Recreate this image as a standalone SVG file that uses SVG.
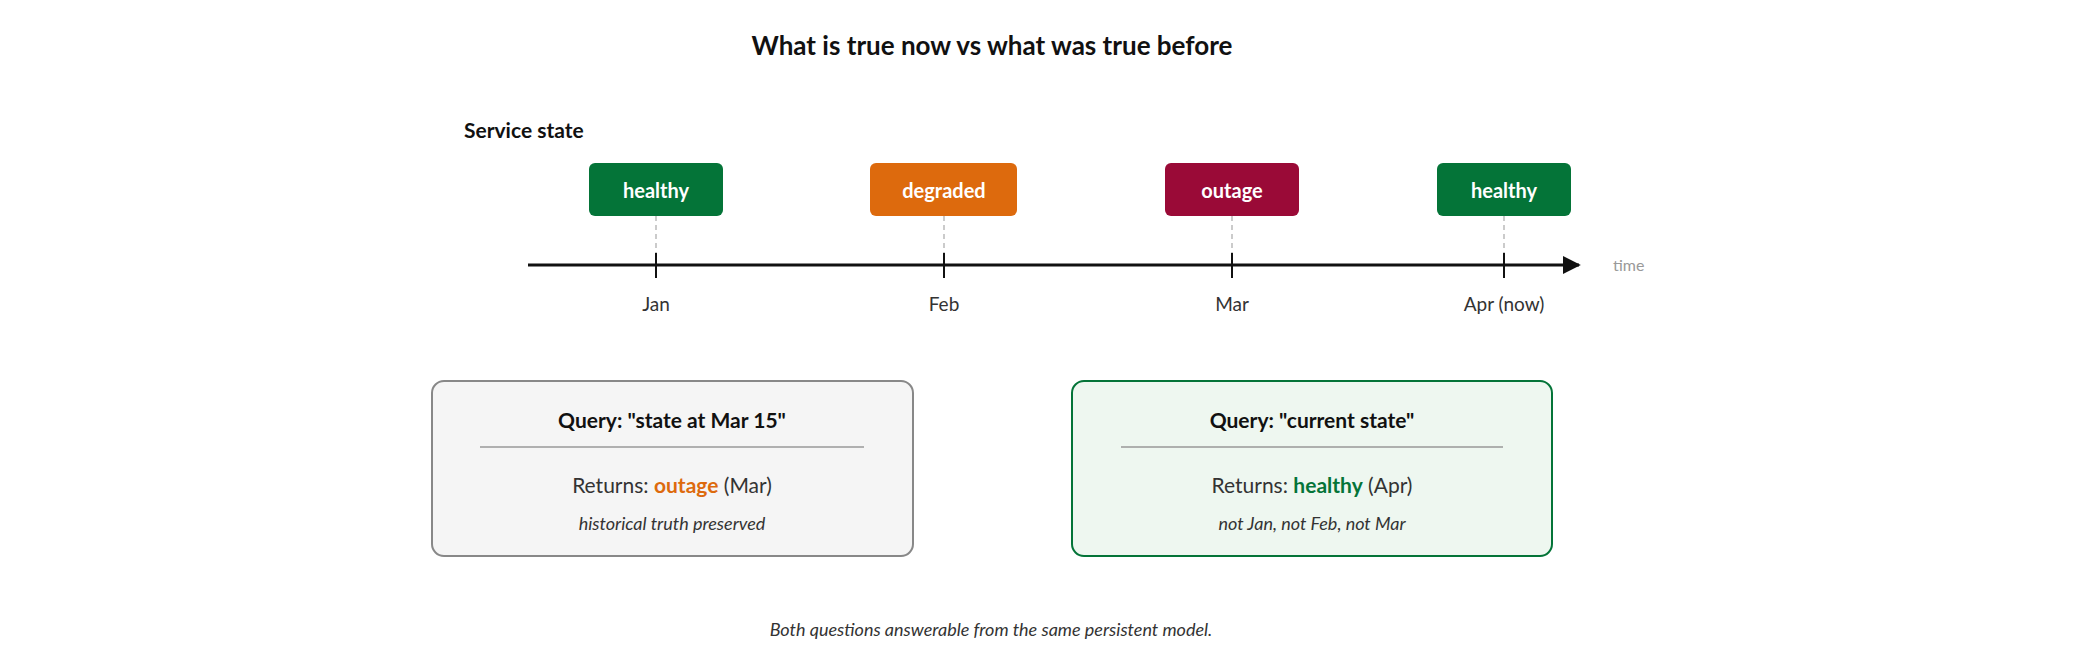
<svg xmlns="http://www.w3.org/2000/svg" width="2080" height="670" viewBox="0 0 2080 670">
<defs>
<style>
text{font-family:Lato,"Noto Sans",sans-serif;text-anchor:middle;dominant-baseline:central}
.st{fill:#fff;font-weight:700;font-size:20px}
.mo{fill:#333;font-size:19px}
.qt{font-weight:700;font-size:21px;fill:#111}
.rt{font-size:21px;fill:#333}
.it{font-style:italic;font-size:18px;fill:#333}
.dash{stroke:#bbb;stroke-width:1.5;stroke-dasharray:5 4}
.tick{stroke:#111;stroke-width:2}
</style>
<marker id="ah" viewBox="0 0 10 10" refX="9" refY="5" markerWidth="6" markerHeight="6" orient="auto"><path d="M0,0L10,5L0,10z" fill="#111"/></marker>
</defs>
<rect width="2080" height="670" fill="#fff"/>
<text x="992" y="45" font-size="26" font-weight="700" fill="#111">What is true now vs what was true before</text>
<text x="464" y="129" font-size="21" font-weight="700" fill="#111" style="text-anchor:start">Service state</text>
<g id="connectors">
<line x1="528" y1="265" x2="1579" y2="265" stroke="#111" stroke-width="3" marker-end="url(#ah)"/>
<line class="dash" x1="656" y1="216" x2="656" y2="253"/>
<line class="dash" x1="944" y1="216" x2="944" y2="253"/>
<line class="dash" x1="1232" y1="216" x2="1232" y2="253"/>
<line class="dash" x1="1504" y1="216" x2="1504" y2="253"/>
<line class="tick" x1="656" y1="253" x2="656" y2="278"/>
<line class="tick" x1="944" y1="253" x2="944" y2="278"/>
<line class="tick" x1="1232" y1="253" x2="1232" y2="278"/>
<line class="tick" x1="1504" y1="253" x2="1504" y2="278"/>
</g>
<text x="1613" y="264" font-size="16" fill="#999" style="text-anchor:start">time</text>
<g id="s1"><rect x="589" y="163" width="134" height="53" rx="6" fill="#047438"/><text class="st" x="656" y="190">healthy</text></g>
<g id="s2"><rect x="870" y="163" width="147" height="53" rx="6" fill="#dd6a0d"/><text class="st" x="944" y="190">degraded</text></g>
<g id="s3"><rect x="1165" y="163" width="134" height="53" rx="6" fill="#9a0a37"/><text class="st" x="1232" y="190">outage</text></g>
<g id="s4"><rect x="1437" y="163" width="134" height="53" rx="6" fill="#047438"/><text class="st" x="1504" y="190">healthy</text></g>
<text class="mo" x="656" y="303">Jan</text>
<text class="mo" x="944" y="303">Feb</text>
<text class="mo" x="1232" y="303">Mar</text>
<text class="mo" x="1504" y="303">Apr (now)</text>
<g id="q1"><rect x="432" y="381" width="481" height="175" rx="12" fill="#f5f5f5" stroke="#888" stroke-width="2"/>
<text class="qt" x="672" y="419">Query: "state at Mar 15"</text>
<line x1="480" y1="447" x2="864" y2="447" stroke="#999" stroke-width="1.5"/>
<text class="rt" x="672" y="484">Returns: <tspan fill="#dd6a0d" font-weight="700">outage</tspan> (Mar)</text>
<text class="it" x="672" y="523">historical truth preserved</text></g>
<g id="q2"><rect x="1072" y="381" width="480" height="175" rx="12" fill="#eef7f0" stroke="#047438" stroke-width="2"/>
<text class="qt" x="1312" y="419">Query: "current state"</text>
<line x1="1121" y1="447" x2="1503" y2="447" stroke="#999" stroke-width="1.5"/>
<text class="rt" x="1312" y="484">Returns: <tspan fill="#047438" font-weight="700">healthy</tspan> (Apr)</text>
<text class="it" x="1312" y="523">not Jan, not Feb, not Mar</text></g>
<text class="it" x="991" y="629" font-size="19">Both questions answerable from the same persistent model.</text>
</svg>
